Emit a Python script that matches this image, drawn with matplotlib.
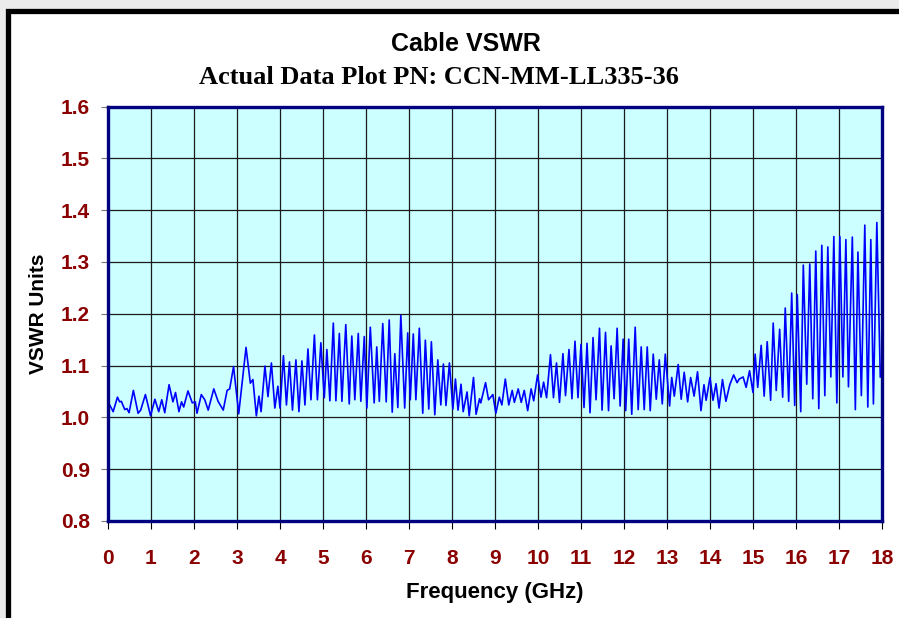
import matplotlib.pyplot as plt
import numpy as np
from matplotlib.patches import Rectangle

# VSWR trace at its peaks and troughs
freq_ghz = [
    0.02, 0.12, 0.22, 0.27, 0.31, 0.39, 0.44, 0.49, 0.59, 0.70, 0.76, 0.87, 0.99,
    1.09, 1.18, 1.25, 1.32, 1.42, 1.51, 1.57, 1.65, 1.71, 1.76, 1.86, 1.96,
    2.03, 2.07, 2.17, 2.25, 2.33, 2.46, 2.56, 2.68, 2.77, 2.83, 2.92, 3.04,
    3.21, 3.31, 3.37, 3.45, 3.51, 3.56, 3.65, 3.72, 3.80, 3.88, 3.95, 4.00,
    4.08, 4.15, 4.22, 4.29, 4.37, 4.44, 4.51, 4.58, 4.65, 4.72, 4.80, 4.87,
    4.95, 5.03, 5.09, 5.16, 5.24, 5.30, 5.38, 5.44, 5.53, 5.61, 5.67, 5.74,
    5.82, 5.88, 5.96, 6.02, 6.10, 6.19, 6.25, 6.31, 6.39, 6.47, 6.54, 6.61,
    6.67, 6.74, 6.81, 6.90, 6.97, 7.03, 7.10, 7.16, 7.24, 7.32, 7.38, 7.46,
    7.52, 7.60, 7.67, 7.74, 7.80, 7.86, 7.94, 8.02, 8.08, 8.14, 8.21, 8.26,
    8.35, 8.40, 8.50, 8.56, 8.64, 8.67, 8.78, 8.85, 8.95, 9.02, 9.10, 9.16,
    9.24, 9.32, 9.40, 9.45, 9.54, 9.61, 9.68, 9.76, 9.84, 9.90, 9.99, 10.07,
    10.13, 10.20, 10.29, 10.36, 10.43, 10.50, 10.58, 10.64, 10.72, 10.79, 10.86, 10.93,
    11.00, 11.07, 11.14, 11.21, 11.28, 11.35, 11.43, 11.49, 11.57, 11.64, 11.70, 11.77,
    11.84, 11.91, 11.98, 12.04, 12.11, 12.18, 12.26, 12.33, 12.40, 12.47, 12.54, 12.61,
    12.68, 12.75, 12.82, 12.89, 12.96, 13.06, 13.11, 13.17, 13.26, 13.33, 13.40, 13.48,
    13.55, 13.63, 13.71, 13.79, 13.86, 13.91, 14.00, 14.07, 14.14, 14.21, 14.29, 14.37,
    14.46, 14.55, 14.63, 14.68, 14.77, 14.84, 14.92, 15.00, 15.05, 15.11, 15.19, 15.26,
    15.33, 15.41, 15.47, 15.54, 15.62, 15.69, 15.75, 15.83, 15.90, 15.97, 16.03, 16.11,
    16.17, 16.25, 16.32, 16.39, 16.46, 16.53, 16.60, 16.67, 16.74, 16.81, 16.88, 16.95,
    17.02, 17.09, 17.16, 17.22, 17.31, 17.38, 17.44, 17.52, 17.60, 17.67, 17.74, 17.80,
    17.88, 17.96,
]
vswr = [
    1.027, 1.011, 1.039, 1.030, 1.031, 1.015, 1.017, 1.009, 1.052, 1.008, 1.014, 1.044, 1.003,
    1.035, 1.011, 1.034, 1.009, 1.063, 1.030, 1.048, 1.011, 1.030, 1.020, 1.051, 1.028,
    1.030, 1.008, 1.044, 1.034, 1.014, 1.055, 1.031, 1.014, 1.052, 1.055, 1.098, 1.007,
    1.135, 1.066, 1.073, 1.003, 1.041, 1.011, 1.099, 1.040, 1.105, 1.018, 1.060, 1.018,
    1.119, 1.024, 1.107, 1.014, 1.111, 1.011, 1.109, 1.024, 1.132, 1.034, 1.159, 1.034,
    1.144, 1.038, 1.131, 1.032, 1.182, 1.032, 1.162, 1.031, 1.179, 1.026, 1.157, 1.034,
    1.162, 1.031, 1.156, 1.018, 1.174, 1.028, 1.136, 1.031, 1.181, 1.030, 1.188, 1.010,
    1.123, 1.019, 1.197, 1.018, 1.163, 1.034, 1.161, 1.034, 1.172, 1.008, 1.149, 1.016,
    1.146, 1.005, 1.111, 1.024, 1.103, 1.023, 1.105, 1.016, 1.074, 1.014, 1.064, 1.011,
    1.049, 1.003, 1.077, 1.006, 1.036, 1.028, 1.067, 1.034, 1.044, 1.008, 1.039, 1.024,
    1.074, 1.024, 1.052, 1.029, 1.055, 1.029, 1.052, 1.013, 1.055, 1.032, 1.082, 1.039,
    1.068, 1.038, 1.121, 1.038, 1.105, 1.029, 1.123, 1.042, 1.131, 1.036, 1.147, 1.038,
    1.141, 1.019, 1.143, 1.009, 1.154, 1.034, 1.172, 1.014, 1.164, 1.013, 1.138, 1.036,
    1.172, 1.022, 1.151, 1.013, 1.151, 1.006, 1.174, 1.015, 1.136, 1.015, 1.136, 1.013,
    1.122, 1.035, 1.111, 1.026, 1.122, 1.022, 1.077, 1.041, 1.102, 1.035, 1.087, 1.030,
    1.077, 1.041, 1.088, 1.013, 1.063, 1.033, 1.077, 1.033, 1.065, 1.018, 1.073, 1.031,
    1.063, 1.082, 1.067, 1.074, 1.078, 1.058, 1.090, 1.048, 1.122, 1.058, 1.139, 1.041,
    1.146, 1.033, 1.182, 1.052, 1.170, 1.039, 1.211, 1.031, 1.240, 1.023, 1.237, 1.011,
    1.294, 1.064, 1.296, 1.036, 1.321, 1.017, 1.332, 1.042, 1.329, 1.078, 1.349, 1.028,
    1.349, 1.078, 1.343, 1.059, 1.348, 1.015, 1.319, 1.042, 1.371, 1.020, 1.343, 1.026,
    1.376, 1.078,
]

x_ticks = np.arange(0, 19, 1)
y_ticks = np.round(np.arange(0.8, 1.61, 0.1), 1)

label_red = "#8b0000"

fig = plt.figure(figsize=(8.99, 6.18), dpi=100, facecolor="#ebebeb")

# white chart sheet with the heavy black frame on the left and top
fig.patches.append(Rectangle((7.5 / 899, -0.1), 1.2, 1.1 - 10.5 / 618,
                             transform=fig.transFigure, facecolor="white",
                             edgecolor="black", linewidth=3.8, zorder=-5))

ax = fig.add_axes([108 / 899, 1 - 521 / 618, (882 - 108) / 899, (521 - 106.5) / 618])
ax.set_zorder(2)
ax.set_facecolor("#ccffff")

ax.plot(freq_ghz, vswr, color="#0000ff", linewidth=1.2, zorder=3,
        solid_joinstyle="round")

ax.set_xlim(0, 18)
ax.set_ylim(0.8, 1.6)
ax.set_xticks(x_ticks)
ax.set_yticks(y_ticks)
ax.set_xticklabels([str(t) for t in x_ticks])
ax.set_yticklabels([f"{t:.1f}" for t in y_ticks])

ax.grid(True, color="#1a1a1a", linewidth=0.9)
ax.set_axisbelow(True)

for s in ax.spines.values():
    s.set_color("#000080")
    s.set_linewidth(2.4)
    s.set_zorder(4)

ax.tick_params(axis="x", direction="out", length=6, width=0.8, color="black",
               pad=14, labelsize=15, labelcolor=label_red)
ax.tick_params(axis="y", direction="out", length=5, width=0.8, color="#777777",
               pad=8, labelsize=15, labelcolor=label_red)
for lab in ax.get_xticklabels() + ax.get_yticklabels():
    lab.set_fontfamily("Liberation Sans")
    lab.set_fontweight("bold")

ax.set_xlabel("Frequency (GHz)", fontsize=16, fontweight="bold",
              family="Liberation Sans", labelpad=10)
ax.set_ylabel("VSWR Units", fontsize=15, fontweight="bold",
              family="Liberation Sans", labelpad=9)

fig.text(466 / 899, 1 - 44 / 618, "Cable VSWR", ha="center", va="center",
         fontsize=18, fontweight="bold", family="Liberation Sans")
fig.text(439 / 899, 1 - 77 / 618, "Actual Data Plot PN: CCN-MM-LL335-36",
         ha="center", va="center", fontsize=19, fontweight="bold",
         family="Liberation Serif")

fig.savefig("out.png", dpi=100, facecolor=fig.get_facecolor())
